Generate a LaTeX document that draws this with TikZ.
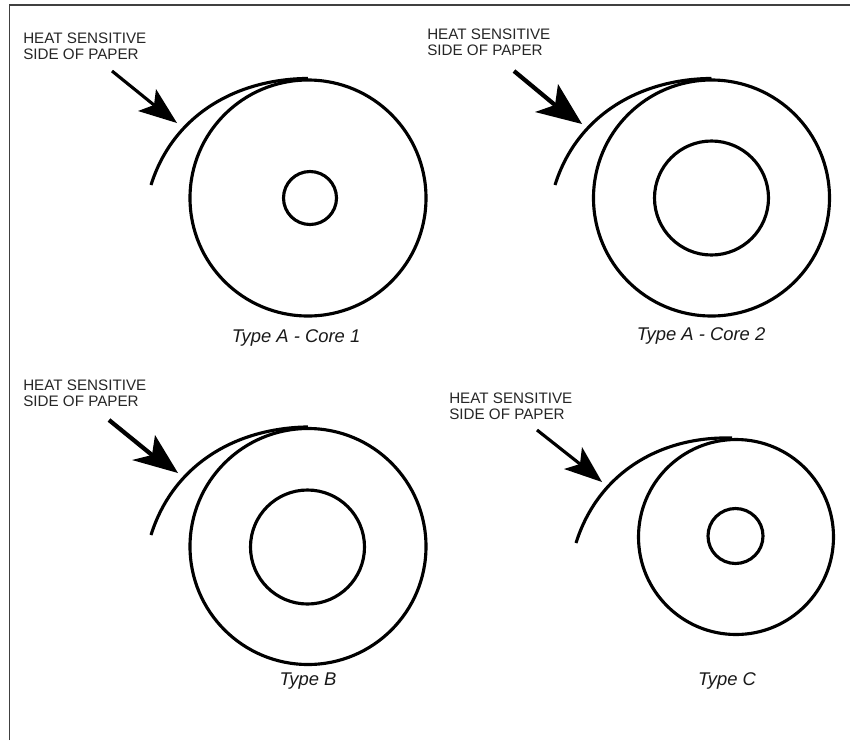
\documentclass[tikz,border=0pt]{standalone}
\usepackage{fontspec}
\setmainfont{Liberation Sans}
\tikzset{
  rollline/.style={line width=2.35pt,black},
  rollcircle/.style={circle,draw,line width=2.35pt,black,inner sep=0pt,minimum size=#1*0.75pt},
  heat/.style={font=\fontsize{11.4pt}{12pt}\selectfont,align=left,anchor=north west,inner sep=0pt,text=black!85},
  captxt/.style={font=\itshape\fontsize{13.8pt}{15pt}\selectfont,text=black!90},
}
\begin{document}
\begin{tikzpicture}[x=0.75pt,y=-0.75pt]
\useasboundingbox (0,0) rectangle (850,740);
\fill[white] (0,0) rectangle (850,740);
\coordinate (fa) at (9.5,740); \coordinate (fb) at (9.5,5); \coordinate (fc) at (850,5);
\draw[line width=1.2pt,black!75] (fa) -- (fb) -- (fc);
% Type A core 1
\node[rollcircle=236] (a1o) at (308,198) {};
\node[rollcircle=53] (a1i) at (310,198) {};
\coordinate (a1e) at (151,185);
\draw[rollline] (a1e) .. controls (173,115) and (236,79) .. (a1o.north);
\node[heat] (t1) at (23,33) {HEAT SENSITIVE\\SIDE OF PAPER};
\coordinate (s1) at (112,71); \coordinate (h1) at (177,123);
\fill (h1) -- (156,89) -- (154,105) -- (138,111) -- cycle;
\draw[line width=2.35pt] (s1) -- (154,105);
\node[captxt] (c1) at (296,338) {Type A - Core 1};
% Type A core 2
\node[rollcircle=236] (a2o) at (711.5,198) {};
\node[rollcircle=114] (a2i) at (711.5,198) {};
\coordinate (a2e) at (555,185);
\draw[rollline] (a2e) .. controls (577,115) and (640,79) .. (a2o.north);
\node[heat] (t2) at (427,29) {HEAT SENSITIVE\\SIDE OF PAPER};
\coordinate (s2) at (514,71); \coordinate (h2) at (582,124);
\fill (h2) -- (558,84) -- (555,105) -- (535,112) -- cycle;
\draw[line width=3.2pt] (s2) -- (555,105);
\node[captxt] (c2) at (701,336) {Type A - Core 2};
% Type B
\node[rollcircle=236] (bo) at (308,546.5) {};
\node[rollcircle=114] (bi) at (307.5,547) {};
\coordinate (be) at (151,535);
\draw[rollline] (be) .. controls (173,465) and (235,428) .. (bo.north);
\node[heat] (t3) at (23,380) {HEAT SENSITIVE\\SIDE OF PAPER};
\coordinate (s3) at (109,420); \coordinate (h3) at (178,473);
\fill (h3) -- (155,435) -- (152,455) -- (132,460) -- cycle;
\draw[line width=3.2pt] (s3) -- (152,455);
\node[captxt] (c3) at (308,681) {Type B};
% Type C
\node[rollcircle=195] (co) at (736,537) {};
\node[rollcircle=55] (ci) at (735.5,536) {};
\coordinate (ce) at (576,543); \coordinate (cf) at (732,438);
\draw[rollline] (ce) .. controls (598,473) and (660,436) .. (cf);
\node[heat] (t4) at (449,393) {HEAT SENSITIVE\\SIDE OF PAPER};
\coordinate (s4) at (537,430); \coordinate (h4) at (602,482);
\fill (h4) -- (582,447) -- (580,464) -- (564,469) -- cycle;
\draw[line width=2.35pt] (s4) -- (580,464);
\node[captxt] (c4) at (727,681) {Type C};
\end{tikzpicture}
\end{document}
